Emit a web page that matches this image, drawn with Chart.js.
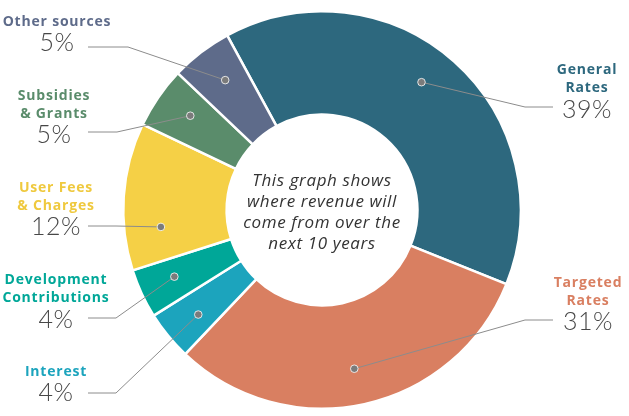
<!DOCTYPE html>
<html>
<head>
<meta charset="utf-8">
<script src="https://cdn.jsdelivr.net/npm/chart.js@4"></script>
<style>
    html, body { margin: 0; padding: 0; background: #fff; }
    #wrap { width: 629px; height: 416px; position: relative; }
</style>
</head>
<body>
<div id="wrap"><canvas id="revenueChart"></canvas></div>
<script>
const sources = ["General Rates", "Targeted Rates", "Interest", "Development Contributions", "User Fees & Charges", "Subsidies & Grants", "Other sources"];
const shares = [39, 31, 4, 4, 12, 5, 5];
const percentLabels = ["39%", "31%", "4%", "4%", "12%", "5%", "5%"];

const sliceColors = ["#2d687e", "#d97f61", "#1ca4bd", "#00a798", "#f5d046", "#5a8c6b", "#5e6b8a"];
const labelColors = ["#2d687e", "#d97f61", "#1ca4bd", "#00a798", "#efc93e", "#5a8c6b", "#5e6b8a"];

// where each label sits and how its leader line bends
const labelLayout = [
    { lines: ["General", "Rates"], x: 587, y: 70, pctY: 110, lineY: 107, elbowX: 525, endX: 553, nudge: -3.8 },
    { lines: ["Targeted", "Rates"], x: 588, y: 283, pctY: 322, lineY: 320, elbowX: 525, endX: 553, nudge: 0.8 },
    { lines: ["Interest"], x: 56, y: 372, pctY: 393, lineY: 393, elbowX: 116, endX: 88, nudge: -0.9 },
    { lines: ["Development", "Contributions"], x: 56, y: 280, pctY: 320, lineY: 318, elbowX: 116, endX: 88, nudge: 0.6 },
    { lines: ["User Fees", "& Charges"], x: 56, y: 188, pctY: 227, lineY: 226, elbowX: 116, endX: 88, nudge: -9.9 },
    { lines: ["Subsidies", "& Grants"], x: 54, y: 96, pctY: 135, lineY: 132, elbowX: 117, endX: 88, nudge: 1.1 },
    { lines: ["Other sources"], x: 57, y: 22, pctY: 43, lineY: 47, elbowX: 128, endX: 88, nudge: 0.8 }
];

const centerLines = ["This graph shows", "where revenue will", "come from over the", "next 10 years"];

// leader lines, dots and labels around the ring
const calloutPlugin = {
    id: 'callouts',
    afterDraw(chart) {
        const { ctx } = chart;
        const meta = chart.getDatasetMeta(0);
        ctx.save();

        meta.data.forEach((arc, i) => {
            const lay = labelLayout[i];
            const mid = (arc.startAngle + arc.endAngle) / 2 + lay.nudge * Math.PI / 180;
            const r = arc.outerRadius * 0.815;
            const dx = arc.x + Math.cos(mid) * r;
            const dy = arc.y + Math.sin(mid) * r;

            ctx.strokeStyle = '#8c8c8c';
            ctx.lineWidth = 1;
            ctx.beginPath();
            ctx.moveTo(dx, dy);
            ctx.lineTo(lay.elbowX, lay.lineY);
            ctx.lineTo(lay.endX, lay.lineY);
            ctx.stroke();

            ctx.beginPath();
            ctx.arc(dx, dy, 3.8, 0, Math.PI * 2);
            ctx.fillStyle = '#7b7b7b';
            ctx.fill();
            ctx.strokeStyle = 'rgba(255,255,255,0.8)';
            ctx.stroke();

            ctx.textAlign = 'center';
            ctx.textBaseline = 'middle';
            ctx.letterSpacing = '0.8px';
            ctx.font = 'bold 14px "Open Sans"';
            ctx.fillStyle = labelColors[i];
            lay.lines.forEach((t, k) => ctx.fillText(t, lay.x, lay.y + k * 18));

            ctx.letterSpacing = '0.5px';
            ctx.font = '300 25px Lato';
            ctx.fillStyle = '#474747';
            ctx.fillText(percentLabels[i], lay.x, lay.pctY);
        });

        ctx.letterSpacing = '0.6px';
        ctx.font = 'italic 17px "Open Sans"';
        ctx.fillStyle = '#333';
        ctx.textAlign = 'center';
        ctx.textBaseline = 'middle';
        const cx = meta.data[0].x;
        centerLines.forEach((t, k) => ctx.fillText(t, cx, 181 + k * 21));

        ctx.restore();
    }
};

new Chart(document.getElementById("revenueChart"), {
    type: "doughnut",
    data: {
        labels: sources,
        datasets: [{
            data: shares,
            backgroundColor: sliceColors,
            borderColor: '#fff',
            borderWidth: 2.5
        }]
    },
    options: {
        responsive: true,
        maintainAspectRatio: false,
        animation: false,
        rotation: -28.5,
        cutout: '48%',
        layout: {
            padding: { top: 10, bottom: 6, left: 15, right: 0 }
        },
        plugins: {
            legend: { display: false },
            tooltip: { enabled: false }
        },
        events: []
    },
    plugins: [calloutPlugin]
});
</script>
</body>
</html>
